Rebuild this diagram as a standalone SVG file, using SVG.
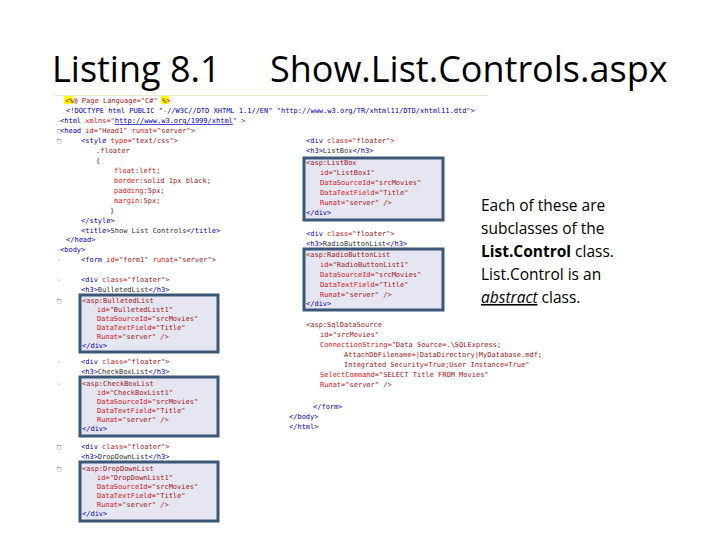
<svg xmlns="http://www.w3.org/2000/svg" width="720" height="540" viewBox="0 0 720 540">
<style>
.c{font-family:"DejaVu Sans Mono","Liberation Mono",monospace;font-size:7px;fill:#a31515}
.t{fill:#0000c0}
.a{fill:#e01010}
.k{fill:#333}
.box{fill:#e6e6f2;stroke:#3b5878;stroke-width:3}
.m{font-family:"DejaVu Sans Mono",monospace;font-size:7px;fill:#777}
.n{font-family:"Open Sans","Liberation Sans",sans-serif;font-size:15.5px;fill:#000}
</style>
<rect width="720" height="540" fill="#fff"/>
<text x="52" y="82" font-family="Open Sans,Liberation Sans,sans-serif" font-size="36" fill="#000">Listing 8.1<tspan x="270">Show.List.Controls.aspx</tspan></text>
<rect x="55" y="95" width="433" height="1" fill="#eee8c8"/>
<g id="boxes">
<rect class="box" x="304" y="158" width="139" height="62"/>
<rect class="box" x="304" y="249" width="139" height="61"/>
<rect class="box" x="80" y="295" width="138" height="57"/>
<rect class="box" x="80" y="377" width="138" height="59"/>
<rect class="box" x="80" y="462" width="138" height="59"/>
</g>
<g id="code">
<rect x="64" y="96" width="9" height="8" fill="#ffff00"/><rect x="161" y="96" width="8" height="8" fill="#ffff00"/>
<text class="c" x="65" y="103">&lt;%@ Page Language="C#" %&gt;</text>
<text class="c" x="66" y="113"><tspan class="t">&lt;!DOCTYPE html PUBLIC "-//W3C//DTD XHTML 1.1//EN" "http://www.w3.org/TR/xhtml11/DTD/xhtml11.dtd"&gt;</tspan></text>
<text class="c" x="60" y="123"><tspan class="t">&lt;html</tspan> <tspan class="a">xmlns</tspan>="<tspan class="t" text-decoration="underline">http://www.w3.org/1999/xhtml</tspan>" &gt;</text>
<text class="c" x="60" y="133"><tspan class="t">&lt;head</tspan> <tspan class="a">id</tspan>="Head1" <tspan class="a">runat</tspan>="server"&gt;</text>
<text class="c" x="81" y="143"><tspan class="t">&lt;style</tspan> <tspan class="a">type</tspan>="text/css"&gt;</text>
<text class="c" x="96" y="153">.floater</text>
<text class="c k" x="96" y="163">{</text>
<text class="c" x="114" y="173"><tspan class="a">float</tspan>:left;</text>
<text class="c" x="114" y="183"><tspan class="a">border</tspan>:solid 1px black;</text>
<text class="c" x="114" y="193"><tspan class="a">padding</tspan>:5px;</text>
<text class="c" x="114" y="203"><tspan class="a">margin</tspan>:5px;</text>
<text class="c k" x="110" y="213">}</text>
<text class="c t" x="81" y="223">&lt;/style&gt;</text>
<text class="c" x="81" y="233"><tspan class="t">&lt;title&gt;</tspan><tspan class="k">Show List Controls</tspan><tspan class="t">&lt;/title&gt;</tspan></text>
<text class="c t" x="66" y="242">&lt;/head&gt;</text>
<text class="c t" x="60" y="252">&lt;body&gt;</text>
<text class="c" x="81" y="262"><tspan class="t">&lt;form</tspan> <tspan class="a">id</tspan>="form1" <tspan class="a">runat</tspan>="server"&gt;</text>
<text class="c" x="81" y="282"><tspan class="t">&lt;div</tspan> <tspan class="a">class</tspan>="floater"&gt;</text>
<text class="c" x="81" y="292"><tspan class="t">&lt;h3&gt;</tspan><tspan class="k">BulletedList</tspan><tspan class="t">&lt;/h3&gt;</tspan></text>
<text class="c" x="82" y="303">&lt;asp:BulletedList</text>
<text class="c" x="97" y="312"><tspan class="a">id</tspan>="BulletedList1"</text>
<text class="c" x="97" y="321"><tspan class="a">DataSourceId</tspan>="srcMovies"</text>
<text class="c" x="97" y="330"><tspan class="a">DataTextField</tspan>="Title"</text>
<text class="c" x="97" y="339"><tspan class="a">Runat</tspan>="server" /&gt;</text>
<text class="c t" x="82" y="348">&lt;/div&gt;</text>
<text class="c" x="81" y="364"><tspan class="t">&lt;div</tspan> <tspan class="a">class</tspan>="floater"&gt;</text>
<text class="c" x="81" y="374"><tspan class="t">&lt;h3&gt;</tspan><tspan class="k">CheckBoxList</tspan><tspan class="t">&lt;/h3&gt;</tspan></text>
<text class="c" x="82" y="386">&lt;asp:CheckBoxList</text>
<text class="c" x="97" y="395"><tspan class="a">id</tspan>="CheckBoxList1"</text>
<text class="c" x="97" y="404"><tspan class="a">DataSourceId</tspan>="srcMovies"</text>
<text class="c" x="97" y="413"><tspan class="a">DataTextField</tspan>="Title"</text>
<text class="c" x="97" y="422"><tspan class="a">Runat</tspan>="server" /&gt;</text>
<text class="c t" x="82" y="431">&lt;/div&gt;</text>
<text class="c" x="81" y="449"><tspan class="t">&lt;div</tspan> <tspan class="a">class</tspan>="floater"&gt;</text>
<text class="c" x="81" y="459"><tspan class="t">&lt;h3&gt;</tspan><tspan class="k">DropDownList</tspan><tspan class="t">&lt;/h3&gt;</tspan></text>
<text class="c" x="82" y="471">&lt;asp:DropDownList</text>
<text class="c" x="97" y="480"><tspan class="a">id</tspan>="DropDownList1"</text>
<text class="c" x="97" y="489"><tspan class="a">DataSourceId</tspan>="srcMovies"</text>
<text class="c" x="97" y="498"><tspan class="a">DataTextField</tspan>="Title"</text>
<text class="c" x="97" y="507"><tspan class="a">Runat</tspan>="server" /&gt;</text>
<text class="c t" x="82" y="516">&lt;/div&gt;</text>
<text class="c" x="306" y="143"><tspan class="t">&lt;div</tspan> <tspan class="a">class</tspan>="floater"&gt;</text>
<text class="c" x="306" y="153"><tspan class="t">&lt;h3&gt;</tspan><tspan class="k">ListBox</tspan><tspan class="t">&lt;/h3&gt;</tspan></text>
<text class="c" x="306" y="165">&lt;asp:ListBox</text>
<text class="c" x="320" y="175"><tspan class="a">id</tspan>="ListBox1"</text>
<text class="c" x="320" y="185"><tspan class="a">DataSourceId</tspan>="srcMovies"</text>
<text class="c" x="320" y="195"><tspan class="a">DataTextField</tspan>="Title"</text>
<text class="c" x="320" y="205"><tspan class="a">Runat</tspan>="server" /&gt;</text>
<text class="c t" x="306" y="215">&lt;/div&gt;</text>
<text class="c" x="306" y="236"><tspan class="t">&lt;div</tspan> <tspan class="a">class</tspan>="floater"&gt;</text>
<text class="c" x="306" y="246"><tspan class="t">&lt;h3&gt;</tspan><tspan class="k">RadioButtonList</tspan><tspan class="t">&lt;/h3&gt;</tspan></text>
<text class="c" x="306" y="257">&lt;asp:RadioButtonList</text>
<text class="c" x="320" y="267"><tspan class="a">id</tspan>="RadioButtonList1"</text>
<text class="c" x="320" y="277"><tspan class="a">DataSourceId</tspan>="srcMovies"</text>
<text class="c" x="320" y="287"><tspan class="a">DataTextField</tspan>="Title"</text>
<text class="c" x="320" y="297"><tspan class="a">Runat</tspan>="server" /&gt;</text>
<text class="c t" x="306" y="306">&lt;/div&gt;</text>
<text class="c" x="306" y="327">&lt;asp:SqlDataSource</text>
<text class="c" x="320" y="337"><tspan class="a">id</tspan>="srcMovies"</text>
<text class="c" x="320" y="347"><tspan class="a">ConnectionString</tspan>="Data Source=.\SQLExpress;</text>
<text class="c" x="344" y="357">AttachDbFilename=|DataDirectory|MyDatabase.mdf;</text>
<text class="c" x="344" y="367">Integrated Security=True;User Instance=True"</text>
<text class="c" x="320" y="377"><tspan class="a">SelectCommand</tspan>="SELECT Title FROM Movies"</text>
<text class="c" x="320" y="387"><tspan class="a">Runat</tspan>="server" /&gt;</text>
<text class="c t" x="313" y="409">&lt;/form&gt;</text>
<text class="c t" x="289" y="419">&lt;/body&gt;</text>
<text class="c t" x="289" y="429">&lt;/html&gt;</text>
<text class="m" x="57" y="123">-</text><text class="m" x="57" y="133">□</text><text class="m" x="57" y="143">□</text><text class="m" x="57" y="252">-</text>
<text class="m" x="57" y="262">-</text><text class="m" x="57" y="282">-</text><text class="m" x="57" y="303">□</text><text class="m" x="57" y="364">-</text><text class="m" x="57" y="386">-</text><text class="m" x="57" y="449">□</text><text class="m" x="57" y="471">□</text>
</g>
<g id="note">
<text class="n" x="481" y="211">Each of these are</text>
<text class="n" x="481" y="234">subclasses of the</text>
<text class="n" x="481" y="257"><tspan font-weight="bold">List.Control</tspan> class.</text>
<text class="n" x="481" y="280">List.Control is an</text>
<text class="n" x="481" y="303"><tspan font-style="italic" text-decoration="underline">abstract</tspan> class.</text>
</g>
</svg>
